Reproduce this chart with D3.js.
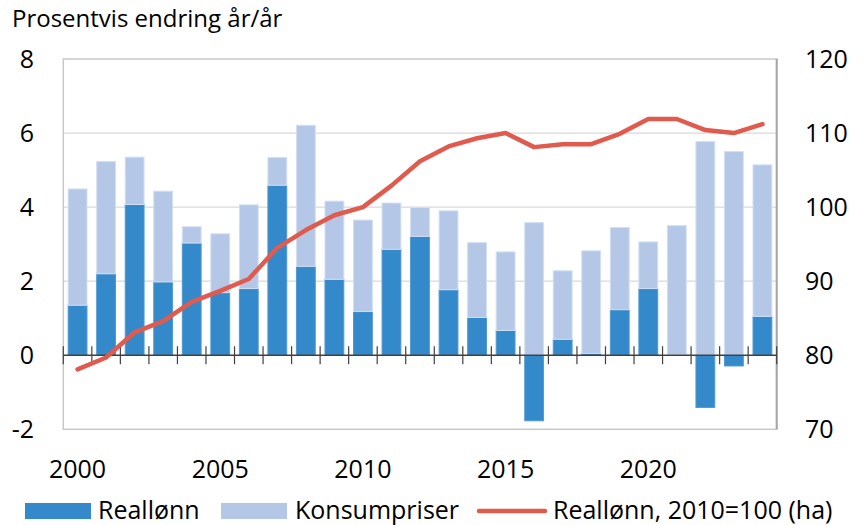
<!DOCTYPE html>
<html>
<head>
<meta charset="utf-8">
<script src="https://cdn.jsdelivr.net/npm/d3@7"></script>
<style>
  html, body { margin: 0; padding: 0; background: #fff; }
  svg { display: block; font-family: "Open Sans", "Noto Sans", sans-serif; }
</style>
</head>
<body>
<svg id="chart" width="864" height="525"></svg>
<script>
// ---- data ----
const years = d3.range(2000, 2025);
const reallonn = [1.35, 2.20, 4.07, 1.98, 3.03, 1.69, 1.80, 4.59, 2.40, 2.05, 1.18, 2.86, 3.21,
                  1.77, 1.02, 0.67, -1.77, 0.43, 0.05, 1.23, 1.80, 0.02, -1.41, -0.29, 1.05];
const konsumpriser = [3.14, 3.03, 1.28, 2.45, 0.44, 1.59, 2.26, 0.75, 3.81, 2.11, 2.47, 1.25, 0.78,
                      2.13, 2.02, 2.12, 3.58, 1.85, 2.77, 2.22, 1.26, 3.48, 5.77, 5.50, 4.09];
const indeks = [78.1, 79.7, 83.1, 84.6, 87.2, 88.7, 90.3, 94.5, 96.9, 98.9, 100.0, 102.9, 106.2,
                108.2, 109.3, 110.0, 108.1, 108.5, 108.5, 109.9, 111.9, 111.9, 110.4, 110.0, 111.2];
const leftTicks = [-2, 0, 2, 4, 6, 8];
const rightTicks = [70, 80, 90, 100, 110, 120];
const yearLabels = [2000, 2005, 2010, 2015, 2020];
const seriesNames = ["Reallønn", "Konsumpriser", "Reallønn, 2010=100 (ha)"];
const titleText = "Prosentvis endring år/år";

// ---- layout ----
const L = 63.3, R = 776.7, T = 59, B = 429.3;
const colDark = "#3489ca", colLight = "#b4c7e7", colLine = "#e05b4d";
const svg = d3.select("#chart");

const x = d3.scaleBand().domain(years).range([L, R]).paddingInner(0.34).paddingOuter(0.17);
const yL = d3.scaleLinear().domain([-2, 8]).range([B, T]);
const yR = d3.scaleLinear().domain([70, 120]).range([B, T]);
const xEdge = d3.scaleLinear().domain([1999.5, 2024.5]).range([L, R]);

// gridlines
svg.append("g").selectAll("line").data(leftTicks.filter(d => d !== 0 && d !== -2 && d !== 8)).join("line")
  .attr("x1", L).attr("x2", R).attr("y1", d => yL(d)).attr("y2", d => yL(d))
  .attr("stroke", "#d9d9d9").attr("stroke-width", 1.3);

// frame
svg.append("rect").attr("x", L).attr("y", T).attr("width", R - L).attr("height", B - T)
  .attr("fill", "none").attr("stroke", "#c8c8c8").attr("stroke-width", 1.5);
svg.append("line").attr("x1", R).attr("x2", R).attr("y1", T).attr("y2", B)
  .attr("stroke", "#a6a6a6").attr("stroke-width", 2);

// stacked bars
const rows = years.map((yr, i) => ({ year: yr, "Reallønn": reallonn[i], "Konsumpriser": konsumpriser[i] }));
const stack = d3.stack().keys(["Reallønn", "Konsumpriser"]).offset(d3.stackOffsetDiverging);
const stacked = stack(rows);
const colors = { "Reallønn": colDark, "Konsumpriser": colLight };
const strokes = { "Reallønn": "#4f9ad3", "Konsumpriser": "#d3dff2" };

svg.append("g").selectAll("g").data(stacked).join("g")
  .attr("fill", d => colors[d.key]).attr("stroke", d => strokes[d.key]).attr("stroke-width", 1)
  .selectAll("rect").data(d => d).join("rect")
  .attr("x", d => x(d.data.year))
  .attr("width", x.bandwidth())
  .attr("y", d => yL(Math.max(d[0], d[1])))
  .attr("height", d => Math.abs(yL(d[0]) - yL(d[1])));

// zero axis with crossing ticks
svg.append("line").attr("x1", L).attr("x2", R).attr("y1", yL(0)).attr("y2", yL(0))
  .attr("stroke", "#404040").attr("stroke-width", 1.5);
const edges = d3.range(1999.5, 2025, 1);
svg.append("g").selectAll("line").data(edges).join("line")
  .attr("x1", d => xEdge(d)).attr("x2", d => xEdge(d))
  .attr("y1", yL(0) - 9).attr("y2", yL(0) + 9)
  .attr("stroke", "#404040").attr("stroke-width", 1.2);

// line (right axis)
const line = d3.line().x((d, i) => x(years[i]) + x.bandwidth() / 2).y(d => yR(d));
svg.append("path").datum(indeks).attr("d", line)
  .attr("fill", "none").attr("stroke", colLine).attr("stroke-width", 4.5)
  .attr("stroke-linejoin", "round").attr("stroke-linecap", "round");

// axis labels
const fs = 25;
svg.append("g").selectAll("text").data(leftTicks).join("text")
  .attr("x", 34).attr("y", d => yL(d)).attr("dy", "0.36em")
  .attr("text-anchor", "end").attr("font-size", fs).attr("fill", "#000")
  .text(d => d);
svg.append("g").selectAll("text").data(rightTicks).join("text")
  .attr("x", 805).attr("y", d => yR(d)).attr("dy", "0.36em")
  .attr("text-anchor", "start").attr("font-size", fs).attr("fill", "#000")
  .text(d => d);
svg.append("g").selectAll("text").data(yearLabels).join("text")
  .attr("x", d => x(d) + x.bandwidth() / 2).attr("y", 478)
  .attr("text-anchor", "middle").attr("font-size", fs).attr("fill", "#000")
  .text(d => d);

// title
svg.append("text").attr("x", 12).attr("y", 27).attr("font-size", 24).attr("fill", "#000").text(titleText);

// legend
const lg = svg.append("g");
lg.append("rect").attr("x", 25).attr("y", 503).attr("width", 66).attr("height", 16).attr("fill", colDark);
lg.append("text").attr("x", 98).attr("y", 519).attr("font-size", fs).text(seriesNames[0]);
lg.append("rect").attr("x", 221).attr("y", 503).attr("width", 66).attr("height", 16).attr("fill", colLight);
lg.append("text").attr("x", 295).attr("y", 519).attr("font-size", fs).text(seriesNames[1]);
lg.append("line").attr("x1", 479).attr("x2", 545).attr("y1", 511).attr("y2", 511)
  .attr("stroke", colLine).attr("stroke-width", 4.5).attr("stroke-linecap", "round");
lg.append("text").attr("x", 553).attr("y", 519).attr("font-size", fs).text(seriesNames[2]);
</script>
</body>
</html>
